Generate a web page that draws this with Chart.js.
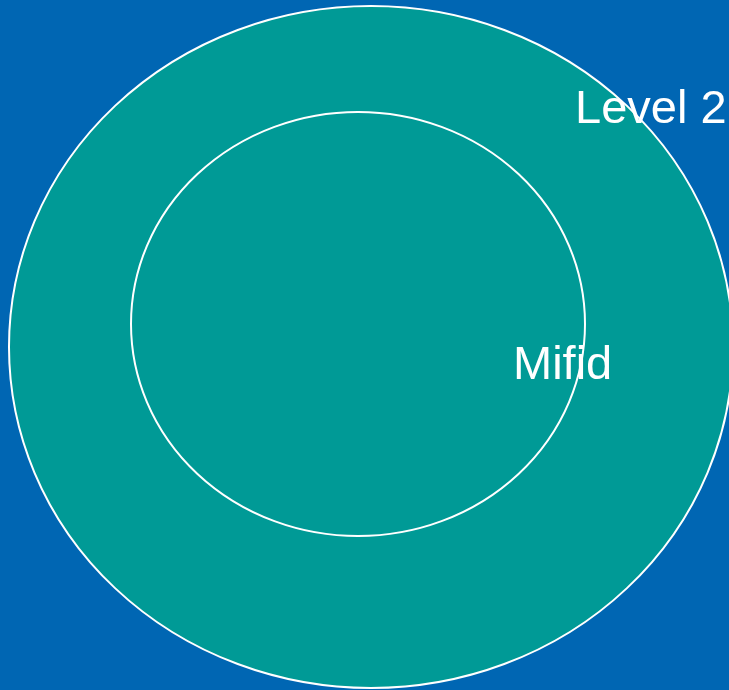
<!DOCTYPE html>
<html>
<head>
<meta charset="utf-8">
<script src="https://cdn.jsdelivr.net/npm/chart.js@4/dist/chart.umd.min.js"></script>
<style>
  html, body { margin: 0; padding: 0; background: #0066B3; overflow: hidden; }
  #wrap { width: 729px; height: 690px; }
</style>
</head>
<body>
<div id="wrap"><canvas id="venn" width="729" height="690"></canvas></div>
<script>
/* ======================
   DATA
====================== */
const shapeNames = ["Level 2", "Mifid"];
const centerX = [371, 358];
const centerY = [347, 324];
const radiusX = [362, 227];
const radiusY = [341, 212];
const labelX = [575, 513];
const labelY = [123, 379];

const BLUE = "#0066B3";
const TEAL = "#009A96";

/* ======================
   ELLIPSE PLUGIN
====================== */
const ellipsePlugin = {
  id: "ellipses",
  beforeDatasetsDraw(chart) {
    const { ctx, scales: { x, y } } = chart;
    ctx.save();
    shapeNames.forEach((name, i) => {
      const cx = x.getPixelForValue(centerX[i]);
      const cy = y.getPixelForValue(centerY[i]);
      const rx = Math.abs(x.getPixelForValue(centerX[i] + radiusX[i]) - cx);
      const ry = Math.abs(y.getPixelForValue(centerY[i] + radiusY[i]) - cy);
      ctx.beginPath();
      ctx.ellipse(cx, cy, rx, ry, 0, 0, Math.PI * 2);
      ctx.fillStyle = TEAL;
      ctx.fill();
      ctx.lineWidth = 2;
      ctx.strokeStyle = "#ffffff";
      ctx.stroke();
    });
    ctx.restore();
  },
  afterDatasetsDraw(chart) {
    const { ctx, scales: { x, y } } = chart;
    ctx.save();
    ctx.fillStyle = "#ffffff";
    ctx.font = '47px "Liberation Sans", Arial, sans-serif';
    ctx.textAlign = "left";
    ctx.textBaseline = "alphabetic";
    shapeNames.forEach((name, i) => {
      ctx.fillText(name, x.getPixelForValue(labelX[i]), y.getPixelForValue(labelY[i]));
    });
    ctx.restore();
  }
};

new Chart(document.getElementById("venn"), {
  type: "scatter",
  data: {
    datasets: shapeNames.map((name, i) => ({
      label: name,
      data: [{ x: centerX[i], y: centerY[i] }],
      pointRadius: 0
    }))
  },
  options: {
    responsive: false,
    animation: false,
    devicePixelRatio: 1,
    layout: { padding: 0 },
    plugins: { legend: { display: false }, tooltip: { enabled: false } },
    scales: {
      x: { type: "linear", min: 0, max: 729, display: false },
      y: { type: "linear", min: 0, max: 690, reverse: true, display: false }
    }
  },
  plugins: [ellipsePlugin]
});
</script>
</body>
</html>
